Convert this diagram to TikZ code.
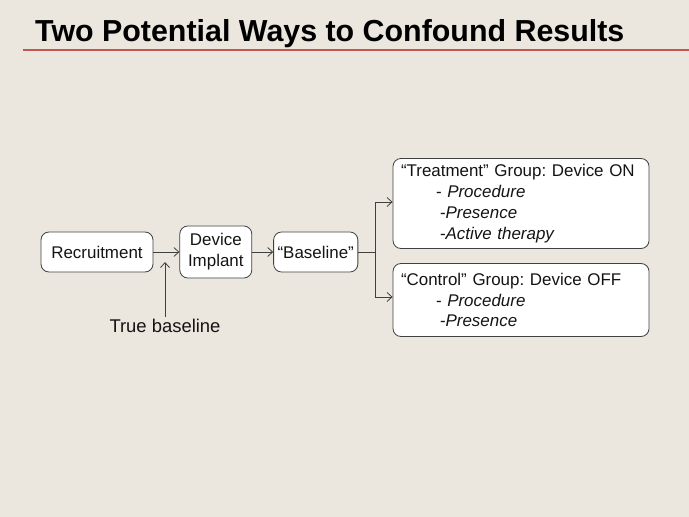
\documentclass[tikz,border=0pt]{standalone}
\usepackage{fontspec}
\setmainfont{Liberation Sans}
\usetikzlibrary{arrows.meta, positioning}
\definecolor{slidebg}{RGB}{235,231,223}
\definecolor{rulered}{RGB}{196,86,82}
\definecolor{linegray}{RGB}{64,64,64}
\definecolor{inkblack}{RGB}{20,20,20}
\frenchspacing

\begin{document}
\begin{tikzpicture}[x=1bp, y=-1bp,
		box/.style={draw=linegray, fill=white, rounded corners=8bp, line width=0.8bp,
			minimum height=40bp, inner sep=4bp, text=inkblack,
			font=\fontsize{17}{21}\selectfont, align=center},
		group/.style={box, text width=240bp, inner xsep=8bp, inner ysep=5bp, align=left},
		arrow/.style={-{Straight Barb[length=5bp,width=9bp]}, line width=0.8bp, draw=linegray},
		node distance=26bp
	]
		\fill[slidebg] (0,0) rectangle (689,517);
		\useasboundingbox (0,0) rectangle (689,517);

		% title and rule
		\node[anchor=base west, inner sep=0, text=black,
			font=\fontsize{30.5}{36}\selectfont\bfseries] (title) at (35,42) {Two Potential Ways to Confound Results};
		\draw[rulered, line width=2.8bp] (23,50) -- (689,50);

		% main chain
		\node[box, minimum width=112bp] (recruit) at (97,252) {Recruitment};
		\node[box, minimum width=72bp, minimum height=52bp, right=of recruit] (implant) {Device\\Implant};
		\node[box, minimum width=84bp, right=21bp of implant] (baseline) {“Baseline”};

		% the two groups
		\node[group, minimum height=90bp] (treat) at (521,203.5)
			{“Treatment” Group: Device ON\\
			\hspace*{35bp}- \textit{Procedure}\\
			\hspace*{39bp}-\textit{Presence}\\
			\hspace*{39bp}-\textit{Active therapy}};
		\node[group, minimum height=73bp] (control) at (521,300)
			{“Control” Group: Device OFF\\
			\hspace*{35bp}- \textit{Procedure}\\
			\hspace*{39bp}-\textit{Presence}};

		\node[inner sep=2bp, text=inkblack, font=\fontsize{18.5}{22}\selectfont] (truebase) at (165,326) {True baseline};

		\coordinate (split) at (375,252);
		\coordinate (tbtip) at (165,262);

		\foreach \a/\b in {recruit/implant,implant/baseline}
			\draw[arrow] (\a) -- (\b);
		\draw[draw=linegray, line width=0.8bp] (baseline) -- (split);
		\draw[arrow] (split) |- ([yshift=1.5bp]treat.west);
		\draw[arrow] (split) |- ([yshift=3bp]control.west);
		\draw[arrow] (truebase.north) -- (tbtip);
	\end{tikzpicture}
\end{document}
